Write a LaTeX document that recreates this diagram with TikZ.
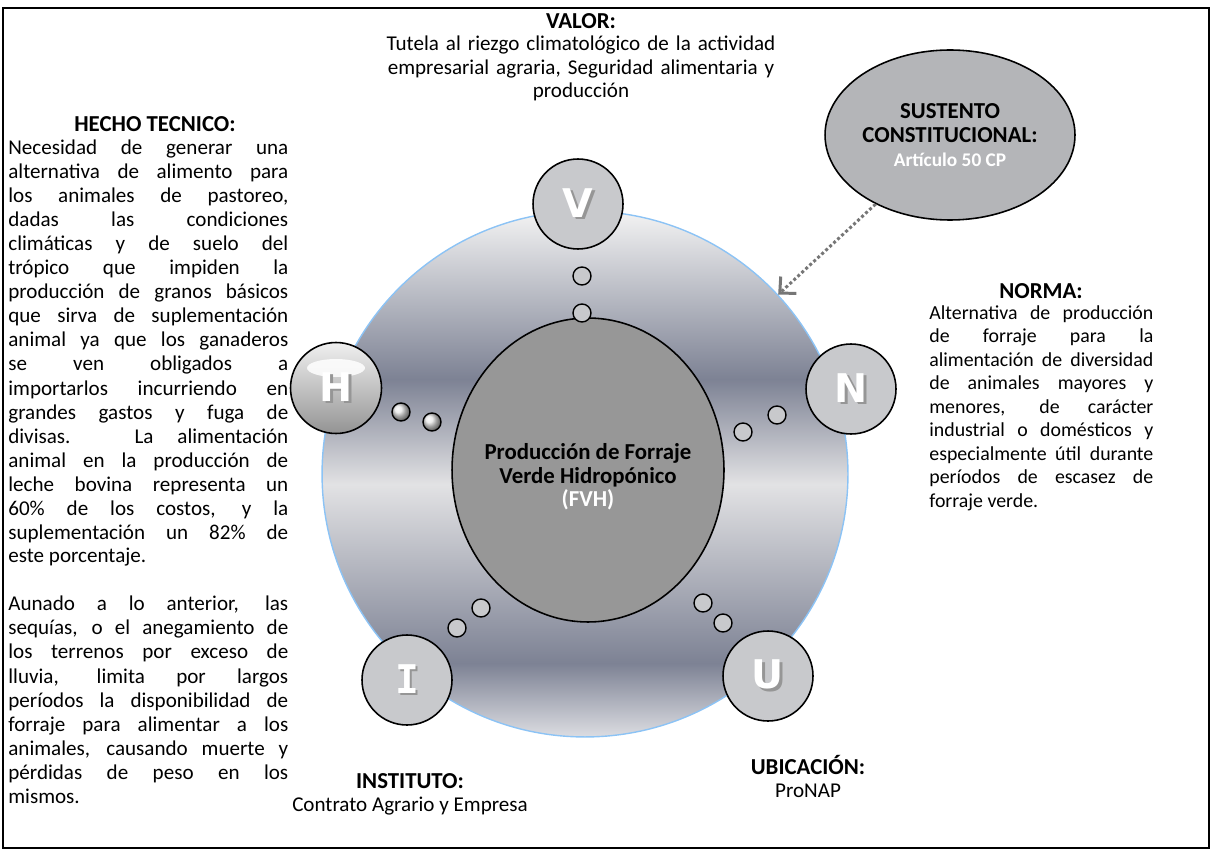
\documentclass[tikz,border=0pt]{standalone}
\usepackage{fontspec}
\setmainfont{Carlito}
\newfontfamily\letterfont{DejaVu Sans}
\newfontfamily\letterfontmono{DejaVu Sans Mono}
\usepackage{tikz}
\usetikzlibrary{arrows.meta,positioning,shapes.geometric}
\definecolor{satgray}{RGB}{200,201,204}
\definecolor{hubgray}{RGB}{151,151,151}
\definecolor{ovalgray}{RGB}{180,181,184}
\definecolor{rimblue}{RGB}{140,195,245}
\definecolor{steeldark}{RGB}{125,130,148}
\definecolor{steellight}{RGB}{226,226,228}
\definecolor{steeltop}{RGB}{243,243,243}
\definecolor{steelbase}{RGB}{220,221,226}
\definecolor{pointergray}{RGB}{118,118,118}
\definecolor{lettershade}{RGB}{150,150,150}

% metallic band for the outer disc
\pgfdeclareverticalshading{steel}{100bp}{color(0bp)=(steelbase); color(25bp)=(steelbase);
  color(32bp)=(steeldark); color(49bp)=(steellight); color(59bp)=(steeldark);
  color(75bp)=(steeltop); color(100bp)=(steeltop)}

\newcommand{\satletter}[1]{\makebox[0pt][l]{\hspace{1.6pt}\raisebox{-1.6pt}{\color{lettershade}#1}}{\color{white}#1}}

\begin{document}
\begin{tikzpicture}[x=0.02cm, y=-0.02cm,
    every node/.style={inner sep=0pt},
    sat/.style={circle, draw, line width=0.9pt, fill=satgray, minimum size=1.8cm,
      font=\letterfont\bfseries\fontsize{22.5}{22.5}\selectfont},
    glossy/.style={circle, draw, line width=0.9pt, minimum size=1.82cm,
      top color=black!6, bottom color=black!42,
      font=\letterfont\bfseries\fontsize{22.5}{22.5}\selectfont,
      path picture={\fill[white, opacity=0.85] ([yshift=0.4cm]path picture bounding box.center) ellipse (0.58cm and 0.18cm);}},
    dot/.style={circle, draw, line width=0.8pt, fill=satgray, minimum size=0.36cm},
    balldot/.style={circle, draw, line width=0.8pt, minimum size=0.36cm, ball color=black!10},
    head/.style={font=\bfseries\fontsize{13}{15}\selectfont},
    txt/.style={font=\fontsize{12}{13.1}\selectfont, text width=#1, align=center},
    leftcol/.style={font=\fontsize{12}{13.66}\selectfont, text width=5.6cm, align=justify},
    rightcol/.style={font=\fontsize{11.3}{13.4}\selectfont, text width=4.48cm, align=justify},
    pointer/.style={draw=pointergray, line width=1.7pt, dash pattern=on 1.7pt off 1.4pt,
      -{Straight Barb[length=2.4mm, width=4.6mm]}}]

  \useasboundingbox (0,0) rectangle (1212,861);
  \draw[line width=1.2pt] (3,8) rectangle (1209,848);

  % outer disc and hub
  \node[circle, draw=rimblue, line width=0.8pt, shading=steel, minimum size=10.52cm] (rim) at (585,474) {};
  \node[ellipse, draw, line width=0.9pt, fill=hubgray, minimum width=5.44cm, minimum height=6.08cm] (hub) at (588,470) {};
  \node[align=center, font=\bfseries\fontsize{13}{13.4}\selectfont] (hubtext) at (588,477)
    {Producción de Forraje\\Verde Hidropónico\\{\color{white}(FVH)}};

  % small linking circles
  \node[dot] (vdot1) at (582,276) {};
  \node[dot] (vdot2) at (582,313) {};
  \node[dot] (ndot1) at (777,415) {};
  \node[dot] (ndot2) at (743,432) {};
  \node[balldot] (hdot1) at (401,412) {};
  \node[balldot] (hdot2) at (432,422) {};
  \node[dot] (idot1) at (481,608) {};
  \node[dot] (idot2) at (457,628) {};
  \node[dot] (udot1) at (703,603) {};
  \node[dot] (udot2) at (723,623) {};

  % outer letters
  \node[sat] (V) at (578,204) {\satletter{V}};
  \node[sat] (N) at (851,389) {\satletter{N}};
  \node[glossy] (H) at (336,388) {\satletter{H}};
  \node[sat, font=\letterfontmono\bfseries\fontsize{22.5}{22.5}\selectfont] (I) at (407,680) {\satletter{I}};
  \node[sat] (U) at (768,676) {\satletter{U}};

  % constitutional support
  \node[ellipse, draw, line width=0.9pt, fill=ovalgray, minimum width=5cm, minimum height=3.4cm,
    align=center, font=\bfseries\fontsize{13}{13.66}\selectfont] (sustento) at (950,135)
    {SUSTENTO\\CONSTITUCIONAL:\\{\color{white}\fontsize{11}{13}\selectfont Artículo 50 CP}};
  \draw[pointer] (sustento) -- (rim);

  % texts
  \node[head, anchor=base] (valorH) at (581,29) {VALOR:};
  \node[txt=9cm, anchor=base] (valor) at (581,51)
    {Tutela al riezgo climatológico de la actividad\\empresarial agraria, Seguridad alimentaria y\\producción};

  \node[head, anchor=base] (hechoH) at (155,132) {HECHO TECNICO:};
  \node[leftcol, anchor=base west] (hecho) at (8,155)
    {Necesidad de generar una\linebreak
     alternativa de alimento para\linebreak
     los animales de pastoreo,\linebreak
     dadas las condiciones\linebreak
     climáticas y de suelo del\linebreak
     trópico que impiden la\linebreak
     producción de granos básicos\linebreak
     que sirva de suplementación\linebreak
     animal ya que los ganaderos\linebreak
     se ven obligados a\linebreak
     importarlos incurriendo en\linebreak
     grandes gastos y fuga de\linebreak
     divisas. La alimentación\linebreak
     animal en la producción de\linebreak
     leche bovina representa un\linebreak
     60\% de los costos, y la\linebreak
     suplementación un 82\% de\linebreak
     este porcentaje.\par\vspace{\baselineskip}
     Aunado a lo anterior, las\linebreak
     sequías, o el anegamiento de\linebreak
     los terrenos por exceso de\linebreak
     lluvia, limita por largos\linebreak
     períodos la disponibilidad de\linebreak
     forraje para alimentar a los\linebreak
     animales, causando muerte y\linebreak
     pérdidas de peso en los\linebreak
     mismos.};

  \node[head, anchor=base] (normaH) at (1041,298) {NORMA:};
  \node[rightcol, anchor=base west] (norma) at (929,319)
    {Alternativa de producción\linebreak
     de forraje para la\linebreak
     alimentación de diversidad\linebreak
     de animales mayores y\linebreak
     menores, de carácter\linebreak
     industrial o domésticos y\linebreak
     especialmente útil durante\linebreak
     períodos de escasez de\linebreak
     forraje verde.};

  \node[head, anchor=base] (institutoH) at (410,788) {INSTITUTO:};
  \node[font=\fontsize{12}{14}\selectfont, anchor=base] (instituto) at (410,811) {Contrato Agrario y Empresa};

  \node[head, anchor=base] (ubicacionH) at (808,774) {UBICACIÓN:};
  \node[font=\fontsize{12}{14}\selectfont, anchor=base] (ubicacion) at (808,797) {ProNAP};
\end{tikzpicture}
\end{document}
